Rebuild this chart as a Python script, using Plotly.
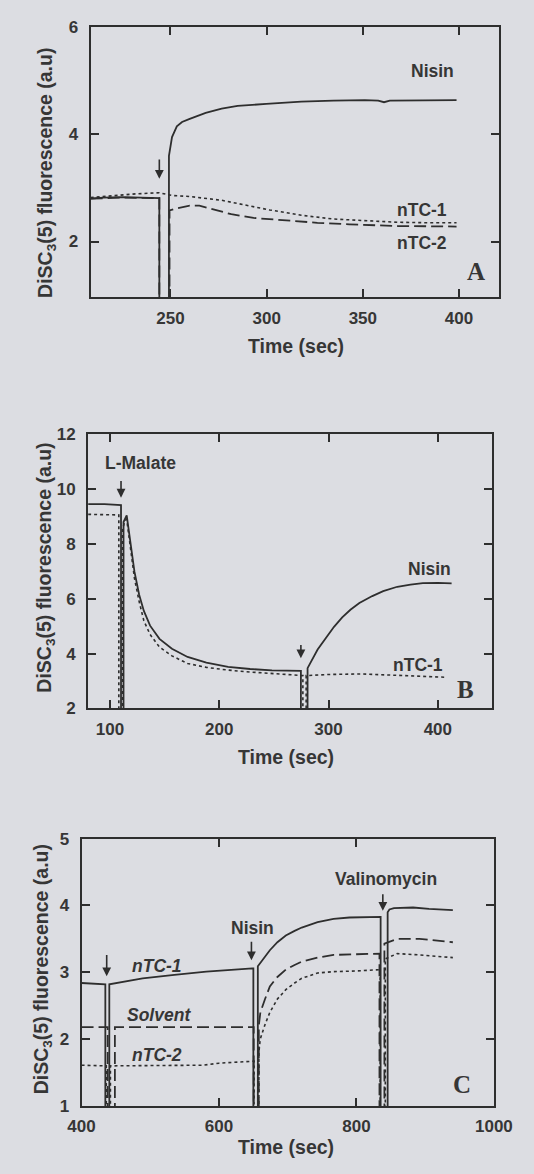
import plotly.graph_objects as go

W, H = 534, 1174

# ---------------- Panel A data ----------------
a_nisin_x = [208.5, 215, 225, 235, 244.2, 244.2, 249.2, 249.2, 250.8, 253.3, 256, 260, 268.3, 276.6, 284.9, 299.8, 318, 334.7, 351, 358, 361, 364, 380, 398.7]
a_nisin_y = [2.80, 2.82, 2.83, 2.82, 2.81, 0.5, 0.5, 3.60, 3.95, 4.15, 4.23, 4.29, 4.40, 4.48, 4.53, 4.57, 4.61, 4.63, 4.64, 4.63, 4.60, 4.63, 4.64, 4.64]
a_ntc1_x = [208.5, 220, 232, 244.2, 250.8, 260, 268.3, 276.6, 284.9, 293, 301.5, 310, 318, 334.7, 351, 368, 385, 398.7]
a_ntc1_y = [2.82, 2.86, 2.89, 2.91, 2.86, 2.84, 2.81, 2.77, 2.71, 2.65, 2.59, 2.54, 2.49, 2.42, 2.39, 2.36, 2.35, 2.35]
a_ntc2_x = [208.5, 225, 244.2, 244.2, 249.5, 249.5, 253.3, 260, 265, 271.6, 281.6, 293.2, 309.8, 326.4, 343, 368, 398.7]
a_ntc2_y = [2.80, 2.82, 2.81, 0.5, 0.5, 2.58, 2.62, 2.67, 2.67, 2.61, 2.51, 2.44, 2.39, 2.35, 2.32, 2.29, 2.28]

# ---------------- Panel B data ----------------
b_nisin_x = [80, 95, 110.1, 110.1, 112.4, 112.4, 115.3, 117.5, 119.6, 122.4, 126.7, 131, 136.7, 145.3, 156.7, 171, 188.2, 208.1, 228.2, 248.2, 274.7, 274.7, 280.8, 280.8, 290, 298.2, 305, 312.5, 320, 328.2, 340, 350, 362.9, 375, 386.3, 400, 412.6]
b_nisin_y = [9.45, 9.45, 9.42, 1.5, 1.5, 8.80, 9.04, 8.45, 7.82, 6.99, 6.15, 5.56, 5.02, 4.54, 4.18, 3.88, 3.67, 3.52, 3.44, 3.39, 3.37, 1.5, 1.5, 3.47, 4.15, 4.60, 4.98, 5.32, 5.60, 5.85, 6.10, 6.28, 6.44, 6.52, 6.57, 6.58, 6.56]
b_ntc1_x = [80, 95, 108.1, 108.1, 111.5, 111.5, 113.5, 115.3, 117.5, 119.6, 122.4, 126.7, 131, 136.7, 145.3, 156.7, 171, 188.2, 208.1, 228.2, 248.2, 274, 276.5, 276.5, 279.5, 279.5, 300, 330, 360, 390, 407]
b_ntc1_y = [9.08, 9.08, 9.06, 1.5, 1.5, 8.50, 8.85, 8.90, 8.25, 7.55, 6.75, 5.90, 5.20, 4.70, 4.24, 3.92, 3.64, 3.50, 3.40, 3.33, 3.28, 3.20, 3.20, 1.5, 1.5, 3.20, 3.24, 3.26, 3.22, 3.18, 3.14]

# ---------------- Panel C data ----------------
c_ntc1_x = [400, 415, 433, 434.6, 434.6, 440.4, 440.4, 488.9, 535, 581.5, 648.6, 650, 650, 656.5, 656.5, 664, 674, 685, 697.2, 710, 720.4, 743.5, 766.7, 789.8, 831.5, 835.2, 835.2, 845.4, 845.4, 848, 854.6, 882.4, 905.6, 940.3]
c_ntc1_y = [2.84, 2.83, 2.82, 2.82, 0.5, 0.5, 2.82, 2.91, 2.96, 3.01, 3.06, 3.06, 0.5, 0.5, 3.09, 3.20, 3.33, 3.45, 3.55, 3.62, 3.67, 3.75, 3.80, 3.82, 3.83, 3.83, 0.5, 0.5, 3.90, 3.94, 3.96, 3.97, 3.95, 3.93]
c_solv_x = [400, 438, 438, 448.5, 448.5, 550, 648.6, 650.5, 650.5, 657.9, 657.9, 660.2, 667, 674, 685, 697.2, 710, 720.4, 743.5, 766.7, 800, 833.5, 833.5, 840.7, 840.7, 859.3, 891.7, 940.3]
c_solv_y = [2.18, 2.18, 0.5, 0.5, 2.18, 2.18, 2.18, 2.18, 0.5, 0.5, 2.20, 2.40, 2.60, 2.79, 2.93, 3.04, 3.11, 3.16, 3.22, 3.26, 3.27, 3.28, 0.5, 0.5, 3.43, 3.50, 3.50, 3.45]
c_ntc2_x = [400, 430, 436, 436, 442, 442, 500, 576.9, 600, 648.6, 651, 651, 658, 658, 660, 667, 674, 685, 697.2, 710, 720.4, 743.5, 766.7, 800, 834.5, 834.5, 842, 842, 859.3, 891.7, 940.3]
c_ntc2_y = [1.61, 1.60, 1.60, 0.5, 0.5, 1.60, 1.60, 1.61, 1.64, 1.67, 1.67, 0.5, 0.5, 1.80, 2.00, 2.22, 2.40, 2.60, 2.74, 2.84, 2.91, 2.99, 3.01, 3.02, 3.04, 0.5, 0.5, 3.20, 3.28, 3.26, 3.22]

# tick values / ranges
a_xticks, a_yticks = [250, 300, 350, 400], [2, 4, 6]
b_xticks, b_yticks = [100, 200, 300, 400], [2, 4, 6, 8, 10, 12]
c_xticks, c_yticks = [400, 600, 800, 1000], [1, 2, 3, 4, 5]
a_xrange, a_yrange = [208.5, 420.8], [0.96, 6]
b_xrange, b_yrange = [80, 450], [2, 12]
c_xrange, c_yrange = [400, 1000], [1, 5]

BG = "#dcdde2"
INK = "#2e2e2e"
TXT = "#363636"
SANS = "Liberation Sans, Arial, sans-serif"
SERIF = "Liberation Serif, Times New Roman, serif"


def px(x):
    return x / W


def py(y):
    return 1 - y / H


fig = go.Figure()

def add_line(x, y, dash, xa, ya, width=1.8):
    fig.add_trace(go.Scatter(x=x, y=y, mode="lines", xaxis=xa, yaxis=ya,
                             line=dict(color=INK, width=width, dash=dash),
                             hoverinfo="skip", showlegend=False))

DASH = "12px,5px"
add_line(a_nisin_x, a_nisin_y, "solid", "x", "y")
add_line(a_ntc1_x, a_ntc1_y, "dot", "x", "y", 1.6)
add_line(a_ntc2_x, a_ntc2_y, DASH, "x", "y")
add_line(b_nisin_x, b_nisin_y, "solid", "x2", "y2")
add_line(b_ntc1_x, b_ntc1_y, "dot", "x2", "y2", 1.6)
add_line(c_ntc1_x, c_ntc1_y, "solid", "x3", "y3")
add_line(c_solv_x, c_solv_y, DASH, "x3", "y3")
add_line(c_ntc2_x, c_ntc2_y, "dot", "x3", "y3", 1.6)

axis_common = dict(showline=True, linewidth=2, linecolor=INK, mirror="ticks",
                   ticks="inside", ticklen=8, tickwidth=1.6, tickcolor=INK,
                   showgrid=False, zeroline=False,
                   tickfont=dict(family=SANS, size=17, color=TXT, weight="bold"))

def frame(l, r, t, b):
    return [px(l), px(r)], [py(b), py(t)]

ax_dom, ay_dom = frame(81.7, 517, 18.5, 293)
bx_dom, by_dom = frame(79, 510, 432.3, 711)
cx_dom, cy_dom = frame(72, 511.5, 843.3, 1115)

fig.update_layout(
    width=W, height=H, margin=dict(l=0, r=0, t=0, b=0),
    paper_bgcolor=BG, plot_bgcolor=BG,
    xaxis=dict(domain=ax_dom, anchor="y", range=a_xrange, tickvals=a_xticks, ticklabelstandoff=4, **axis_common),
    yaxis=dict(domain=ay_dom, anchor="x", range=a_yrange, tickvals=a_yticks, ticklabelstandoff=7, **axis_common),
    xaxis2=dict(domain=bx_dom, anchor="y2", range=b_xrange, tickvals=b_xticks, ticklabelstandoff=4, **axis_common),
    yaxis2=dict(domain=by_dom, anchor="x2", range=b_yrange, tickvals=b_yticks, ticklabelstandoff=7, **axis_common),
    xaxis3=dict(domain=cx_dom, anchor="y3", range=c_xrange, tickvals=c_xticks, ticklabelstandoff=4, **axis_common),
    yaxis3=dict(domain=cy_dom, anchor="x3", range=c_yrange, tickvals=c_yticks, ticklabelstandoff=7, **axis_common),
)

ann = []

def paper_text(text, x, y, size=19.5, angle=0, family=SANS):
    ann.append(dict(text=text, x=px(x), y=py(y), xref="paper", yref="paper",
                    showarrow=False, textangle=angle, xanchor="center", yanchor="middle",
                    font=dict(family=family, size=size, color=TXT, weight="bold")))

def data_text(text, x, y, xr, yr, size=17.5, family=SANS):
    ann.append(dict(text=text, x=x, y=y, xref=xr, yref=yr, showarrow=False,
                    xanchor="center", yanchor="middle",
                    font=dict(family=family, size=size, color=TXT, weight="bold")))

def arrow(x, y0, y1, xr, yr):
    ann.append(dict(text="", x=x, y=y1, ax=x, ay=y0, xref=xr, yref=yr, axref=xr, ayref=yr,
                    showarrow=True, arrowhead=2, arrowsize=1.1, arrowwidth=1.6, arrowcolor=INK))

ytitle = "DiSC<sub>3</sub>(5) fluorescence (a.u)"
# Panel A
paper_text(ytitle, 34, 166.7, angle=-90)
paper_text("Time (sec)", 301, 342.7)
data_text("Nisin", 386, 5.18, "x", "y")
data_text("nTC-1", 381, 2.58, "x", "y")
data_text("nTC-2", 381, 1.98, "x", "y")
data_text("A", 409, 1.45, "x", "y", size=25, family=SERIF)
arrow(244.2, 3.56, 3.17, "x", "y")
# Panel B
paper_text(ytitle, 34, 568, angle=-90)
paper_text("Time (sec)", 290, 760)
data_text("L-Malate", 128, 10.95, "x2", "y2")
data_text("Nisin", 392, 7.1, "x2", "y2")
data_text("nTC-1", 382, 3.6, "x2", "y2")
data_text("B", 425.5, 2.7, "x2", "y2", size=25, family=SERIF)
arrow(110.1, 10.35, 9.69, "x2", "y2")
arrow(274.7, 4.37, 3.83, "x2", "y2")
# Panel C
paper_text(ytitle, 30, 976, angle=-90)
paper_text("Time (sec)", 290, 1157)
data_text("<i>nTC-1</i>", 510, 3.09, "x3", "y3")
data_text("<i>Solvent</i>", 512, 2.36, "x3", "y3")
data_text("<i>nTC-2</i>", 510, 1.76, "x3", "y3")
data_text("Nisin", 648.6, 3.67, "x3", "y3")
data_text("Valinomycin", 843, 4.39, "x3", "y3")
data_text("C", 954, 1.32, "x3", "y3", size=25, family=SERIF)
arrow(436.6, 3.28, 2.94, "x3", "y3")
arrow(647.2, 3.48, 3.18, "x3", "y3")
arrow(838.4, 4.19, 3.92, "x3", "y3")

fig.update_layout(annotations=ann)
fig.write_html("out.html")
